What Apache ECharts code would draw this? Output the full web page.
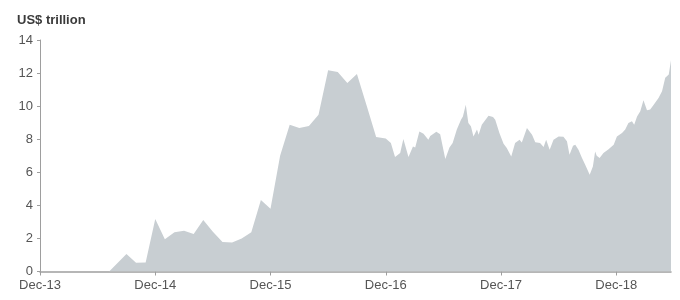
<!DOCTYPE html>
<html><head><meta charset="utf-8">
<script src="https://cdn.jsdelivr.net/npm/echarts@6/dist/echarts.min.js"></script>
<style>html,body{margin:0;padding:0;background:#fff}#c{width:680px;height:300px}</style>
</head><body><div id="c"></div>
<script>
var dates = ['2013-12-01','2014-07-07','2014-09-01','2014-10-01','2014-11-01','2014-12-01',
'2015-01-01','2015-02-01','2015-03-01','2015-04-01','2015-05-01','2015-06-01','2015-07-01','2015-08-01','2015-09-01','2015-10-01','2015-11-01','2015-12-01',
'2016-01-01','2016-02-01','2016-03-01','2016-04-01','2016-05-01','2016-06-01','2016-07-01','2016-08-01','2016-09-01','2016-10-01','2016-11-01','2016-12-01',
'2016-12-17','2016-12-30','2017-01-16','2017-01-26','2017-02-12','2017-02-26','2017-03-03','2017-03-16','2017-03-29','2017-04-14','2017-04-20',
'2017-05-09','2017-05-21','2017-05-26','2017-06-07','2017-06-20','2017-06-30','2017-07-13','2017-07-26','2017-08-02','2017-08-11','2017-08-19','2017-08-27',
'2017-09-05','2017-09-16','2017-09-21','2017-10-01','2017-10-22','2017-11-06','2017-11-13','2017-11-26','2017-12-09','2017-12-19',
'2018-01-03','2018-01-15','2018-01-29','2018-02-06','2018-02-22','2018-03-08','2018-03-18','2018-04-03','2018-04-14','2018-04-22',
'2018-05-03','2018-05-15','2018-05-31','2018-06-16','2018-06-27','2018-07-05','2018-07-16','2018-07-23','2018-08-03','2018-08-14','2018-08-24',
'2018-09-08','2018-09-18','2018-09-25','2018-09-30','2018-10-09','2018-10-21','2018-11-07','2018-11-23','2018-12-03','2018-12-19','2018-12-29',
'2019-01-09','2019-01-20','2019-01-27','2019-02-06','2019-02-16','2019-02-26','2019-03-07','2019-03-17','2019-03-28','2019-04-13','2019-04-24',
'2019-05-04','2019-05-15','2019-05-22'];
var values = [0,0,1.06,0.53,0.55,3.18,
1.95,2.37,2.47,2.27,3.12,2.41,1.79,1.75,2.0,2.37,4.33,3.79,
7.0,8.88,8.68,8.8,9.48,12.17,12.07,11.4,11.95,10.05,8.13,8.05,
7.77,6.92,7.16,8.01,6.92,7.56,7.5,8.47,8.33,7.97,8.2,
8.45,8.3,8.3,6.8,7.5,7.77,8.58,9.18,9.38,10.09,8.98,8.78,
8.17,8.58,8.27,8.88,9.42,9.35,9.18,8.38,7.73,7.47,
6.96,7.77,7.97,7.8,8.68,8.27,7.81,7.77,7.53,7.97,
7.36,7.97,8.17,8.15,7.87,7.06,7.6,7.67,7.36,6.86,6.45,
5.85,6.35,7.26,7.0,6.86,7.16,7.4,7.67,8.17,8.38,8.58,
8.98,9.08,8.88,9.38,9.69,10.35,9.75,9.79,10.09,10.5,10.9,
11.71,11.91,12.78];
var tickLabels = ['Dec-13','Dec-14','Dec-15','Dec-16','Dec-17','Dec-18'];
var tickDates = ['2013-12-01','2014-12-01','2015-12-01','2016-12-01','2017-12-01','2018-12-01'];
var yTitle = 'US$ trillion';

function toMonths(s){
  var p = s.split('-').map(Number);
  return (p[0]-2013)*12 + (p[1]-12) + (p[2]-1)/30;
}
var pts = dates.map(function(d,i){ return [toMonths(d), values[i]]; });
var tickPos = tickDates.map(toMonths);

var chart = echarts.init(document.getElementById('c'), null, {renderer:'canvas'});
chart.setOption({
  animation:false,
  title:{text:yTitle,left:12,top:9,textStyle:{fontFamily:'Liberation Sans, Arial',fontSize:13,fontWeight:'bold',color:'#3a3a3a'}},
  grid:{left:40,right:9,top:40,bottom:28.5,containLabel:false},
  xAxis:{type:'value',min:0,max:'dataMax',
    axisLine:{lineStyle:{color:'#9e9e9e',width:1.5}},
    axisTick:{show:true,length:4,customValues:tickPos,lineStyle:{color:'#9e9e9e'}},
    axisLabel:{fontFamily:'Liberation Sans, Arial',fontSize:13,color:'#555',margin:7,customValues:tickPos,
      formatter:function(v){var k=tickPos.indexOf(v);return k>=0?tickLabels[k]:'';}},
    splitLine:{show:false}},
  yAxis:{type:'value',min:0,max:14,interval:2,
    axisLine:{show:true,lineStyle:{color:'#9e9e9e',width:1}},
    axisTick:{show:true,length:3,lineStyle:{color:'#9e9e9e'}},
    axisLabel:{fontFamily:'Liberation Sans, Arial',fontSize:13,color:'#555',margin:7},
    splitLine:{show:false}},
  series:[{type:'line',data:pts,symbol:'none',lineStyle:{width:0},
    areaStyle:{color:'#c8ced2',opacity:1},z:1}]
});
</script></body></html>
